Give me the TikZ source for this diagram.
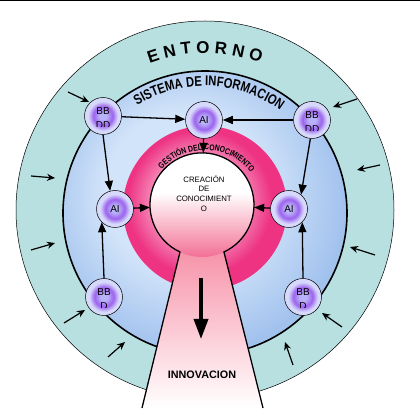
\documentclass[tikz,border=0pt]{standalone}
\usepackage{fontspec}
\setmainfont{Liberation Sans}
\newfontfamily\narrowsf{Liberation Sans}[FakeStretch=0.8]
\usetikzlibrary{arrows.meta,calc,decorations.text}
\definecolor{ringteal}{HTML}{B8E0E0}
\definecolor{skyL}{HTML}{D2E4F9}
\definecolor{skyD}{HTML}{A2C2EE}
\definecolor{pinkL}{HTML}{F48AB8}
\definecolor{pinkD}{HTML}{EE3383}
\definecolor{bulbD}{HTML}{F27096}
\definecolor{bulbL}{HTML}{F9B6C8}
\definecolor{funnelT}{HTML}{F794AA}
\definecolor{bubA}{HTML}{B9B2F8}
\definecolor{bubB}{HTML}{9C62EE}
\definecolor{bubC}{HTML}{D6D9FA}
\pgfdeclareradialshading{bubshade}{\pgfpoint{0bp}{0bp}}{color(0bp)=(bubA); color(5bp)=(bubA); color(13bp)=(bubB); color(20bp)=(bubC); color(50bp)=(bubC)}
\pgfdeclareradialshading{skyshade}{\pgfpoint{-5bp}{5bp}}{color(0bp)=(skyL); color(14bp)=(skyL); color(27bp)=(skyD); color(50bp)=(skyD)}
\pgfdeclareradialshading{pinkshade}{\pgfpoint{-3bp}{3bp}}{color(0bp)=(pinkL); color(14bp)=(pinkL); color(22bp)=(pinkD); color(50bp)=(pinkD)}
\pgfdeclareverticalshading{bulbshade}{100bp}{color(0bp)=(bulbD); color(25bp)=(bulbD); color(40bp)=(bulbL); color(56bp)=(white); color(100bp)=(white)}
\newcommand\entfont{\bfseries\fontsize{17}{17}\selectfont}
\newcommand\sisfont{\narrowsf\bfseries\fontsize{14}{14}\selectfont}
\newcommand\gesfont{\narrowsf\bfseries\fontsize{8.5}{8.5}\selectfont}
\newcommand\bubfont{\fontsize{10}{10}\selectfont}
\tikzset{
  bubble/.style={circle,draw=black,line width=0.5pt,shading=bubshade,minimum size=37pt,inner sep=0pt},
  ainode/.style={bubble,font=\bubfont},
  dbnode/.style={bubble,path picture={
      \clip ($(path picture bounding box.west)+(0,-11pt)$) rectangle (path picture bounding box.north east);
      \node[font=\bubfont,anchor=base,inner sep=0pt] at ($(path picture bounding box.center)+(0,1pt)$) {BB};
      \node[font=\bubfont,anchor=base,inner sep=0pt] at ($(path picture bounding box.center)+(0,-13pt)$) {#1};
    }},
  arr/.style={-{Triangle[length=10pt,width=8pt]},line width=1.3pt},
  inarr/.style={-{Stealth[length=8pt,width=7pt]},line width=1.2pt},
  bigarr/.style={-{Triangle[length=20pt,width=14pt]},line width=3.5pt},
}
\begin{document}
\begin{tikzpicture}[x=1pt,y=1pt]
  \useasboundingbox (0,0) rectangle (420,412);
  \draw[line width=1pt] (0,411.5) -- (420,411.5);
  \coordinate (oc) at (205,202);
  \coordinate (ic) at (205,199);
  \coordinate (gc) at (205,204);
  % --- rings
  \fill[ringteal] (oc) circle[radius=189];
  \draw[line width=0.5pt] (oc) circle[radius=189];
  \shade[shading=skyshade] (ic) circle[radius=142];
  \draw[line width=1.6pt] (ic) circle[radius=142];
  \shade[shading=pinkshade] (gc) circle[radius=82];
  % --- funnel + creation bulb
  \node[circle,minimum size=104pt,inner sep=0pt] (crea) at (202,207) {};
  \coordinate (fnTL) at (180,160);
  \coordinate (fnTR) at (224,160);
  \coordinate (fnBL) at (142,4);
  \coordinate (fnBR) at (263,4);
  \shade[top color=funnelT,bottom color=white] (fnTL) -- (fnTR) -- (fnBR) -- (fnBL) -- cycle;
  \shade[shading=bulbshade] (crea.center) circle[radius=52];
  \draw[line width=1.3pt] (fnBL) -- (fnTL) arc[start angle=245,end angle=-65,radius=52] -- (fnBR);
  \node[align=center,font=\fontsize{7.8}{9.7}\selectfont] (creaTxt) at (204,218.5) {CREACIÓN\\DE\\CONOCIMIENT\\O};
  \coordinate (dnTop) at (201,134);
  \coordinate (dnBot) at (201,73);
  \draw[bigarr] (dnTop) -- (dnBot);
  \node[font=\bfseries\fontsize{10.8}{10.8}\selectfont] (innov) at (202,37) {INNOVACION};
  % --- curved titles
  \path[decorate,decoration={text along path,text align=center,text={|\entfont|E N T O R N O}}]
    ($(oc)+(113:157)$) arc[start angle=113,end angle=67,radius=157];
  \path[decorate,decoration={text along path,text align=center,text={|\sisfont|SISTEMA DE INFORMACION}}]
    ($(ic)+(132:127)$) arc[start angle=132,end angle=44,radius=127];
  \path[decorate,decoration={text along path,text align=center,text={|\gesfont|GESTIÓN DEL CONOCIMIENTO}}]
    ($(gc)+(142:58)$) arc[start angle=142,end angle=34,radius=58];
  % --- sources and analysis nodes
  \node[dbnode=DD] (bdTL) at (103,296) {};
  \node[dbnode=DD] (bdTR) at (312,292) {};
  \node[dbnode=D] (bdBL) at (104,115) {};
  \node[dbnode=D] (bdBR) at (303,115) {};
  \node[ainode] (aiT) at (204,292) {AI};
  \node[ainode] (aiL) at (115,203) {AI};
  \node[ainode] (aiR) at (289,203) {AI};
  \draw[arr] (bdTL) -- (aiT);
  \draw[arr] (bdTR) -- (aiT);
  \draw[arr] (bdTL.south) -- (aiL.105);
  \draw[arr] (bdTR.265) -- (aiR.50);
  \draw[arr] (bdBL.north) -- (aiL.south west);
  \draw[arr] (bdBR.north) -- (aiR.south east);
  \draw[arr] (aiL) -- (crea);
  \draw[arr] (aiR) -- (crea);
  \draw[arr] (aiT) -- (crea);
  % --- environment inputs
  \foreach \xa/\ya/\xb/\yb in {68/320/89/310, 357/313/333/305, 31/236/55/234, 31/162/55/169, 64/89/85/102,
      108/55/125/70, 380/247/357/242, 375/157/350/165, 342/85/322/99, 293/47/285/70}
    \draw[inarr] (\xa,\ya) -- (\xb,\yb);
\end{tikzpicture}
\end{document}
